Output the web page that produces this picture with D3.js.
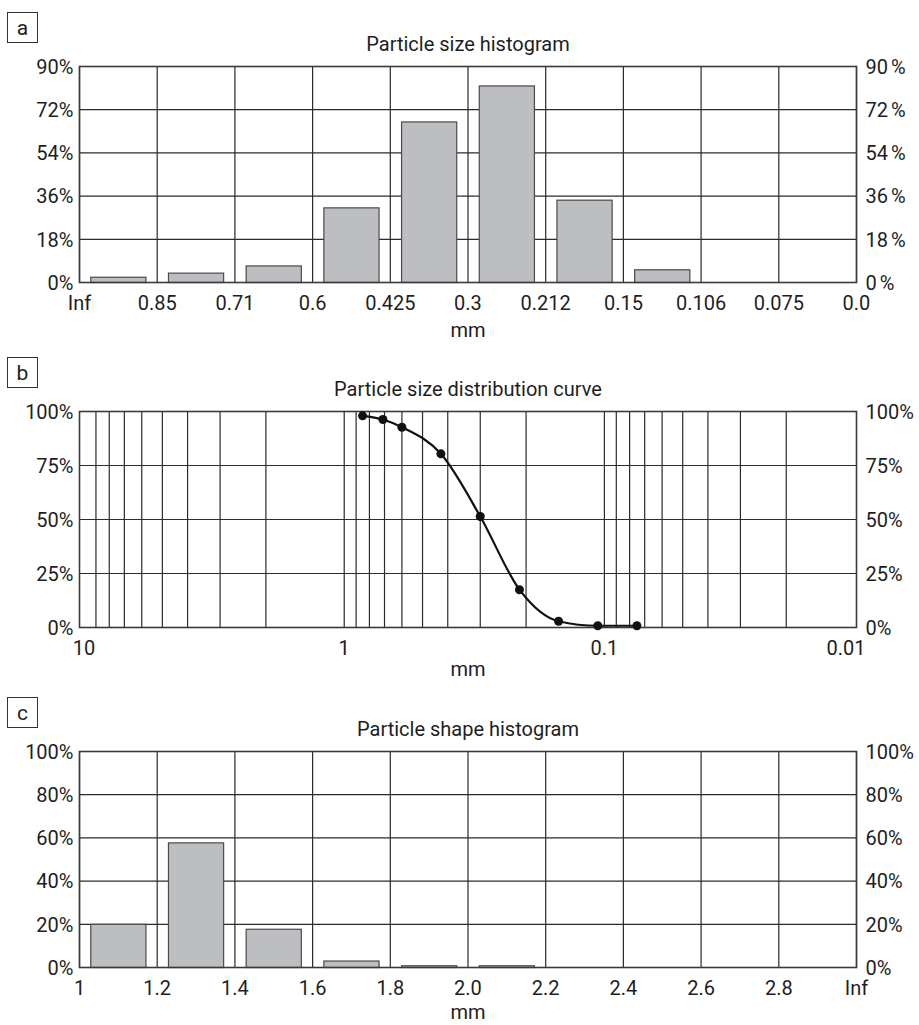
<!DOCTYPE html>
<html><head><meta charset="utf-8">
<script src="https://cdn.jsdelivr.net/npm/d3@7"></script>
<style>
html,body{margin:0;padding:0;background:#fff;}
svg text{font-family:"Roboto","Liberation Sans",sans-serif;fill:#1e1e1e;}
</style></head>
<body>
<svg id="chart" width="919" height="1025"></svg>
<script>
// ---- Data ----
const aEdgeLabels = ["Inf","0.85","0.71","0.6","0.425","0.3","0.212","0.15","0.106","0.075","0.0"];
const aValues = [2.2, 3.9, 6.9, 31.1, 66.9, 81.9, 34.3, 5.3, 0, 0];
const aYTicks = [0, 18, 36, 54, 72, 90];

const bSizes = [0.85, 0.71, 0.6, 0.425, 0.3, 0.212, 0.15, 0.106, 0.075];
const bPassing = [98, 96.3, 92.7, 80.4, 51.4, 17.5, 2.9, 0.8, 0.8];
const bYTicks = [0, 25, 50, 75, 100];
const bXLabels = [10, 1, 0.1, 0.01];
const bXLabelText = ["10", "1", "0.1", "0.01"];
const bGridValues = [9,8,7,6,5,4,3,2,1,0.9,0.8,0.7,0.6,0.5,0.4,0.3,0.2,0.1,0.09,0.08,0.07,0.06,0.05,0.04,0.03,0.02];
const bDomain = [10.41, 0.01074];

const cEdges = [1, 1.2, 1.4, 1.6, 1.8, 2.0, 2.2, 2.4, 2.6, 2.8, 3.0];
const cEdgeLabels = ["1","1.2","1.4","1.6","1.8","2.0","2.2","2.4","2.6","2.8","Inf"];
const cValues = [20, 57.7, 17.7, 3.0, 0.8, 0.8, 0, 0, 0, 0];
const cYTicks = [0, 20, 40, 60, 80, 100];

const titles = ["Particle size histogram", "Particle size distribution curve", "Particle shape histogram"];
const panelLetters = ["a", "b", "c"];

// ---- Layout ----
const svg = d3.select("#chart");
const L = 79.5, R = 856.5, H = 216;
const tops = [66.5, 411.5, 751.5];
const mmOffset = [54, 48, 51];
const FS = 20;
const gridColor = "#2b2b2b";
const frameColor = "#3a3a3a";

function panelBase(i, yScale, yTicks, rightSpace) {
  const top = tops[i], bottom = top + H;
  const g = svg.append("g");
  // letter box
  g.append("rect").attr("x", 7.5).attr("y", top - 54).attr("width", 30).attr("height", 30)
    .attr("fill", "none").attr("stroke", "#333").attr("stroke-width", 1);
  g.append("text").attr("x", 22.5).attr("y", top - 32).attr("text-anchor", "middle")
    .attr("font-size", 21).text(panelLetters[i]);
  g.append("text").attr("x", (L + R) / 2).attr("y", top - 16).attr("text-anchor", "middle")
    .attr("font-size", FS).text(titles[i]);
  // horizontal grid
  g.append("g").selectAll("line").data(yTicks).join("line")
    .attr("x1", L).attr("x2", R)
    .attr("y1", d => yScale(d)).attr("y2", d => yScale(d))
    .attr("stroke", gridColor).attr("stroke-width", 1.2);
  // y labels left
  g.append("g").selectAll("text").data(yTicks).join("text")
    .attr("x", L - 6).attr("y", d => yScale(d)).attr("dy", "0.36em")
    .attr("text-anchor", "end").attr("font-size", FS).text(d => d + "%");
  // y labels right
  const rt = g.append("g").selectAll("text").data(yTicks).join("text")
    .attr("x", R + 9).attr("y", d => yScale(d)).attr("dy", "0.36em")
    .attr("text-anchor", "start").attr("font-size", FS);
  rt.append("tspan").text(d => d);
  rt.append("tspan").attr("dx", rightSpace).text("%");
  g.append("text").attr("x", (L + R) / 2).attr("y", bottom + mmOffset[i]).attr("text-anchor", "middle")
    .attr("font-size", FS).text("mm");
  return g;
}

function frame(g, top) {
  g.append("rect").attr("x", L).attr("y", top).attr("width", R - L).attr("height", H)
    .attr("fill", "none").attr("stroke", frameColor).attr("stroke-width", 1.6);
}

function histogram(i, edgeLabels, values, yMax, yTicks, rightSpace) {
  const top = tops[i], bottom = top + H;
  const y = d3.scaleLinear().domain([0, yMax]).range([bottom, top]);
  const edges = d3.scalePoint().domain(d3.range(edgeLabels.length)).range([L, R]);
  const band = d3.scaleBand().domain(d3.range(values.length)).range([L, R])
    .paddingInner(0.29).paddingOuter(0.145);
  const g = panelBase(i, y, yTicks, rightSpace);
  // vertical grid
  g.append("g").selectAll("line").data(d3.range(edgeLabels.length)).join("line")
    .attr("x1", d => edges(d)).attr("x2", d => edges(d)).attr("y1", top).attr("y2", bottom)
    .attr("stroke", gridColor).attr("stroke-width", 1.2);
  // bars
  g.append("g").selectAll("rect").data(values.map((v, k) => ({v, k})).filter(d => d.v > 0)).join("rect")
    .attr("x", d => band(d.k)).attr("width", band.bandwidth())
    .attr("y", d => y(d.v)).attr("height", d => y(0) - y(d.v))
    .attr("fill", "#bdbec1").attr("stroke", "#4a4a4a").attr("stroke-width", 1.2);
  frame(g, top);
  // x labels
  g.append("g").selectAll("text").data(edgeLabels).join("text")
    .attr("x", (d, k) => edges(k)).attr("y", bottom + 27).attr("text-anchor", "middle")
    .attr("font-size", FS).text(d => d);
}

// Panel a
histogram(0, aEdgeLabels, aValues, 90, aYTicks, 3);

// Panel b
(function () {
  const i = 1, top = tops[i], bottom = top + H;
  const y = d3.scaleLinear().domain([0, 100]).range([bottom, top]);
  const x = d3.scaleLog().domain(bDomain).range([L, R]);
  const g = panelBase(i, y, bYTicks, 0);
  g.append("g").selectAll("line").data(bGridValues).join("line")
    .attr("x1", d => x(d)).attr("x2", d => x(d)).attr("y1", top).attr("y2", bottom)
    .attr("stroke", gridColor).attr("stroke-width", 1.2);
  frame(g, top);
  const pts = bSizes.map((s, k) => [x(s), y(bPassing[k])]);
  g.append("path").attr("d", d3.line().curve(d3.curveMonotoneX)(pts))
    .attr("fill", "none").attr("stroke", "#111").attr("stroke-width", 2.2);
  g.append("g").selectAll("circle").data(pts).join("circle")
    .attr("cx", d => d[0]).attr("cy", d => d[1]).attr("r", 4.5).attr("fill", "#111");
  g.append("g").selectAll("text").data(bXLabels).join("text")
    .attr("x", (d, k) => k === bXLabels.length - 1 ? x(d) + 1 : x(d))
    .attr("y", bottom + 27)
    .attr("text-anchor", (d, k) => k === bXLabels.length - 1 ? "end" : "middle")
    .attr("font-size", FS).text((d, k) => bXLabelText[k]);
})();

// Panel c
(function () {
  const i = 2, top = tops[i], bottom = top + H;
  const y = d3.scaleLinear().domain([0, 100]).range([bottom, top]);
  const x = d3.scaleLinear().domain([cEdges[0], cEdges[cEdges.length - 1]]).range([L, R]);
  const g = panelBase(i, y, cYTicks, 0);
  g.append("g").selectAll("line").data(cEdges).join("line")
    .attr("x1", d => x(d)).attr("x2", d => x(d)).attr("y1", top).attr("y2", bottom)
    .attr("stroke", gridColor).attr("stroke-width", 1.2);
  const step = x(cEdges[1]) - x(cEdges[0]);
  const pad = step * 0.145;
  g.append("g").selectAll("rect").data(cValues.map((v, k) => ({v, k})).filter(d => d.v > 0)).join("rect")
    .attr("x", d => x(cEdges[d.k]) + pad).attr("width", d => x(cEdges[d.k + 1]) - x(cEdges[d.k]) - 2 * pad)
    .attr("y", d => y(d.v)).attr("height", d => y(0) - y(d.v))
    .attr("fill", "#bdbec1").attr("stroke", "#4a4a4a").attr("stroke-width", 1.2);
  frame(g, top);
  g.append("g").selectAll("text").data(cEdges).join("text")
    .attr("x", d => x(d)).attr("y", bottom + 27).attr("text-anchor", "middle")
    .attr("font-size", FS).text((d, k) => cEdgeLabels[k]);
})();
</script>
</body></html>
